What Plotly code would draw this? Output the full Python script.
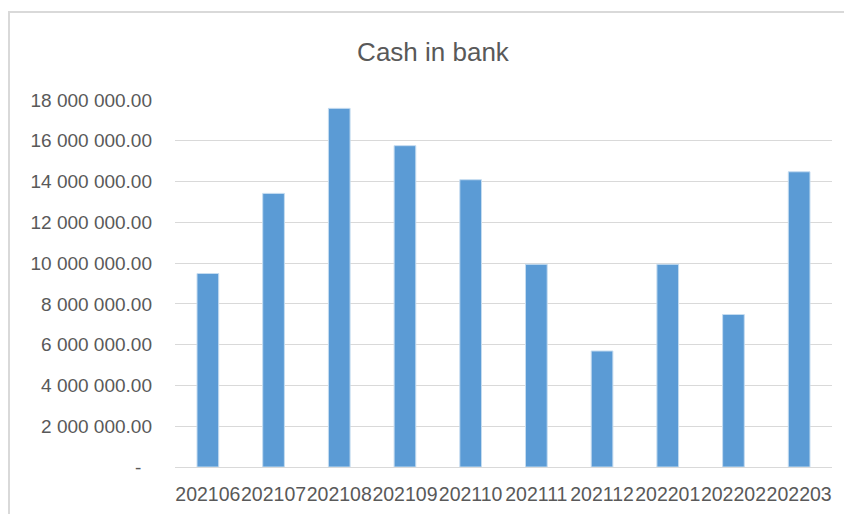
import plotly.graph_objects as go

months = ["202106", "202107", "202108", "202109", "202110",
          "202111", "202112", "202201", "202202", "202203"]
cash = [9490000, 13420000, 17590000, 15760000, 14090000,
        9940000, 5690000, 9940000, 7480000, 14480000]

y_tick_vals = [0, 2000000, 4000000, 6000000, 8000000, 10000000,
               12000000, 14000000, 16000000, 18000000]
y_tick_text = ["-\u00a0\u00a0", "2 000 000.00", "4 000 000.00", "6 000 000.00",
               "8 000 000.00", "10 000 000.00", "12 000 000.00",
               "14 000 000.00", "16 000 000.00", "18 000 000.00"]

FONT = "Liberation Sans"
GREY = "#595959"

fig = go.Figure(
    go.Bar(
        x=months,
        y=cash,
        marker=dict(color="#5B9BD5", line=dict(color="#C5DCF0", width=1)),
        width=0.33,
        hoverinfo="x+y",
    )
)

fig.update_layout(
    width=844,
    height=514,
    margin=dict(l=175, r=12, t=100, b=47, autoexpand=False),
    paper_bgcolor="white",
    plot_bgcolor="white",
    showlegend=False,
    title=dict(
        text="Cash in bank",
        x=433 / 844,
        xanchor="center",
        xref="container",
        y=1 - 52 / 514,
        yanchor="middle",
        yref="container",
        font=dict(family=FONT, size=26, color=GREY),
    ),
    font=dict(family=FONT, color=GREY),
    shapes=[
        dict(
            type="rect",
            xref="paper",
            yref="paper",
            x0=(9 - 175) / 657,
            x1=1.2,
            y0=-0.3,
            y1=(467 - 12) / 367,
            line=dict(color="#D9D9D9", width=2),
            fillcolor="rgba(0,0,0,0)",
            layer="below",
        )
    ],
)

fig.update_xaxes(
    type="category",
    tickangle=0,
    tickfont=dict(family=FONT, size=19.5, color=GREY),
    showgrid=False,
    showline=True,
    linecolor="#D9D9D9",
    linewidth=1,
    ticks="",
    ticklabelstandoff=10,
    automargin=False,
)

fig.update_yaxes(
    range=[0, 18000000],
    tickvals=y_tick_vals,
    ticktext=y_tick_text,
    tickfont=dict(family=FONT, size=19, color=GREY),
    showgrid=True,
    gridcolor="#D9D9D9",
    gridwidth=1,
    zeroline=False,
    showline=False,
    ticks="",
    ticklabelstandoff=22,
    automargin=False,
)

fig.write_html(
    "out.html",
    config={"displayModeBar": False},
    post_script="document.body.style.margin='0';document.body.style.overflow='hidden';",
)
